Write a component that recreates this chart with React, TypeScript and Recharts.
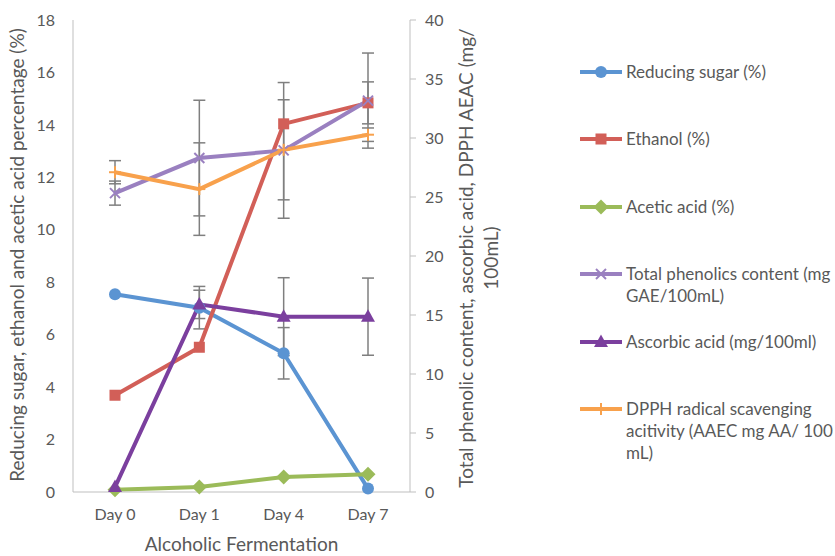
import { LineChart, Line, XAxis, YAxis, ErrorBar, Legend } from 'recharts'

const days = ['Day 0', 'Day 1', 'Day 4', 'Day 7']

// primary axis (%)
const reducingSugar = [7.54, 7.03, 5.29, 0.13]
const reducingSugarErr = [0, 0.81, 0.98, 0]
const ethanol = [3.69, 5.52, 14.04, 14.84]
const ethanolErr = [0, 0, 0, 0.8]
const aceticAcid = [0.09, 0.19, 0.57, 0.68]

// secondary axis (mg/100mL)
const phenolics = [25.33, 28.3, 28.95, 33.17]
const phenolicsErr = [1.02, 4.9, 5.75, 4.03]
const ascorbicAcid = [0.42, 15.9, 14.86, 14.86]
const ascorbicAcidErr = [0, 1.2, 3.3, 3.27]
const dpph = [27.1, 25.67, 29.0, 30.28]
const dpphErr = [0.98, 3.92, 4.24, 0.57]

const leftTicks = [0, 2, 4, 6, 8, 10, 12, 14, 16, 18]
const rightTicks = [0, 5, 10, 15, 20, 25, 30, 35, 40]

const FONT = 'Lato, "Open Sans", sans-serif'
const TEXT = '#595959'
const AXIS = '#BFBFBF'
const ERR = '#7F7F7F'

type Shape = 'circle' | 'square' | 'diamond' | 'cross' | 'triangle' | 'plus'

interface Series {
  key: string
  errKey?: string
  label: string[]
  color: string
  shape: Shape
  axis: 'left' | 'right'
}

const series: Series[] = [
  { key: 'reducingSugar', errKey: 'reducingSugarErr', label: ['Reducing sugar (%)'], color: '#5B94D2', shape: 'circle', axis: 'left' },
  { key: 'ethanol', errKey: 'ethanolErr', label: ['Ethanol (%)'], color: '#D25F58', shape: 'square', axis: 'left' },
  { key: 'aceticAcid', label: ['Acetic acid (%)'], color: '#9BBB59', shape: 'diamond', axis: 'left' },
  { key: 'phenolics', errKey: 'phenolicsErr', label: ['Total phenolics content (mg', 'GAE/100mL)'], color: '#9A80C0', shape: 'cross', axis: 'right' },
  { key: 'ascorbicAcid', errKey: 'ascorbicAcidErr', label: ['Ascorbic acid (mg/100ml)'], color: '#7B3F9E', shape: 'triangle', axis: 'right' },
  { key: 'dpph', errKey: 'dpphErr', label: ['DPPH radical scavenging', 'acitivity (AAEC mg AA/ 100', 'mL)'], color: '#F8A14C', shape: 'plus', axis: 'right' },
]

const data = days.map((day, i) => ({
  day,
  reducingSugar: reducingSugar[i],
  reducingSugarErr: reducingSugarErr[i],
  ethanol: ethanol[i],
  ethanolErr: ethanolErr[i],
  aceticAcid: aceticAcid[i],
  phenolics: phenolics[i],
  phenolicsErr: phenolicsErr[i],
  ascorbicAcid: ascorbicAcid[i],
  ascorbicAcidErr: ascorbicAcidErr[i],
  dpph: dpph[i],
  dpphErr: dpphErr[i],
}))

function marker(shape: Shape, cx: number, cy: number, color: string, key?: string) {
  switch (shape) {
    case 'circle':
      return <circle key={key} cx={cx} cy={cy} r={6} fill={color} />
    case 'square':
      return <rect key={key} x={cx - 5.5} y={cy - 5.5} width={11} height={11} fill={color} />
    case 'diamond':
      return <polygon key={key} points={`${cx},${cy - 7.5} ${cx + 7.5},${cy} ${cx},${cy + 7.5} ${cx - 7.5},${cy}`} fill={color} />
    case 'triangle':
      return <polygon key={key} points={`${cx},${cy - 7.5} ${cx + 7},${cy + 5} ${cx - 7},${cy + 5}`} fill={color} />
    case 'cross':
      return (
        <g key={key} stroke={color} strokeWidth={2}>
          <line x1={cx - 5} y1={cy - 5} x2={cx + 5} y2={cy + 5} />
          <line x1={cx - 5} y1={cy + 5} x2={cx + 5} y2={cy - 5} />
        </g>
      )
    case 'plus':
      return (
        <g key={key} stroke={color} strokeWidth={2}>
          <line x1={cx} y1={cy - 6} x2={cx} y2={cy + 6} />
          <line x1={cx - 6} y1={cy} x2={cx + 6} y2={cy} />
        </g>
      )
  }
}

const renderLegend = () => (
  <div style={{ position: 'relative', width: 257, height: 400, fontFamily: FONT, fontSize: 17, color: TEXT, lineHeight: '22px' }}>
    {series.map((s, i) => (
      <div key={s.key} style={{ position: 'absolute', left: 0, top: Math.round(i * 67.4) }}>
        <svg width={46} height={22} style={{ position: 'absolute', left: 0, top: 0 }}>
          <line x1={2} y1={11} x2={44} y2={11} stroke={s.color} strokeWidth={4} />
          {marker(s.shape, 23, 11, s.color)}
        </svg>
        <div style={{ position: 'absolute', left: 48, top: 0, whiteSpace: 'nowrap' }}>
          {s.label.map((t) => (
            <div key={t}>{t}</div>
          ))}
        </div>
      </div>
    ))}
  </div>
)

const titleStyle = { fontFamily: FONT, fontSize: 19, fill: TEXT }
const tickStyle = { fill: TEXT, fontSize: 16, fontFamily: FONT }

export default function App() {
  return (
    <div style={{ position: 'absolute', left: 0, top: 0 }}>
      <LineChart width={835} height={556} data={data} margin={{ top: 20, right: 365, bottom: 0, left: 0 }}>
        <XAxis
          dataKey="day"
          height={64}
          padding={{ left: 42, right: 42 }}
          axisLine={{ stroke: AXIS }}
          tickLine={false}
          tickSize={0}
          tickMargin={17}
          tick={tickStyle}
          label={() => (
            <text x={241.5} y={551} textAnchor="middle" style={titleStyle}>
              Alcoholic Fermentation
            </text>
          )}
        />
        <YAxis
          yAxisId="left"
          domain={[0, 18]}
          ticks={leftTicks}
          width={73}
          axisLine={{ stroke: AXIS }}
          tickLine={false}
          tickSize={0}
          tickMargin={18}
          tick={tickStyle}
          label={() => (
            <text transform="translate(24,255) rotate(-90)" textAnchor="middle" style={titleStyle}>
              Reducing sugar, ethanol and acetic acid percentage (%)
            </text>
          )}
        />
        <YAxis
          yAxisId="right"
          orientation="right"
          domain={[0, 40]}
          ticks={rightTicks}
          width={60}
          axisLine={{ stroke: AXIS }}
          tickLine={{ stroke: AXIS }}
          tickSize={6}
          tickMargin={9}
          tick={{ ...tickStyle, textAnchor: 'start' }}
          label={() => (
            <g>
              <text transform="translate(473,258) rotate(-90)" textAnchor="middle" style={titleStyle}>
                Total phenolic content, ascorbic acid, DPPH AEAC (mg/
              </text>
              <text transform="translate(498,258) rotate(-90)" textAnchor="middle" style={titleStyle}>
                100mL)
              </text>
            </g>
          )}
        />
        {series.map((s) => (
          <Line
            key={s.key}
            yAxisId={s.axis}
            dataKey={s.key}
            name={s.label.join(' ')}
            stroke={s.color}
            strokeWidth={4}
            isAnimationActive={false}
            activeDot={false}
            dot={(p: any) => marker(s.shape, p.cx, p.cy, s.color, `${s.key}-${p.index}`)}
          >
            {s.errKey && <ErrorBar dataKey={s.errKey} width={6} strokeWidth={1.5} stroke={ERR} />}
          </Line>
        ))}
        <Legend
          layout="vertical"
          align="center"
          verticalAlign="middle"
          content={renderLegend}
          wrapperStyle={{ left: 578, top: 61, width: 257 }}
        />
      </LineChart>
    </div>
  )
}
